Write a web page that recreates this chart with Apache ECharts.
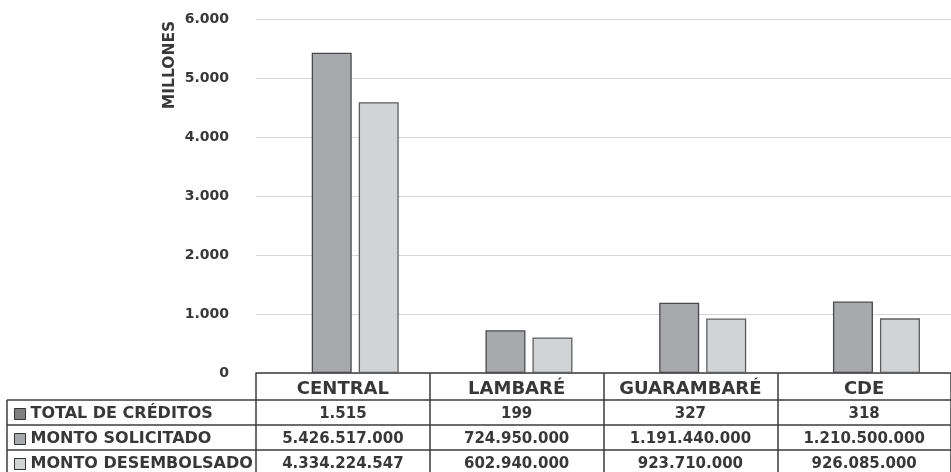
<!DOCTYPE html>
<html>
<head>
<meta charset="utf-8">
<script src="https://cdn.jsdelivr.net/npm/echarts@6/dist/echarts.min.js"></script>
<style>
html,body{margin:0;padding:0;background:#fff;}
#chart{width:951px;height:472px;}
</style>
</head>
<body>
<div id="chart"></div>
<script>
// ---- data ----
const categories = ['CENTRAL', 'LAMBARÉ', 'GUARAMBARÉ', 'CDE'];
const seriesNames = ['TOTAL DE CRÉDITOS', 'MONTO SOLICITADO', 'MONTO DESEMBOLSADO'];
const totalCreditos = [1515, 199, 327, 318];
const montoSolicitado = [5426517000, 724950000, 1191440000, 1210500000];
const montoDesembolsado = [4334224547, 602940000, 923710000, 926085000];
// bar heights (millones) as drawn in the picture
const barSolicitadoMillones = [5427, 725, 1191, 1211];
const barDesembolsadoMillones = [4590, 603, 924, 926];
const yMin = 0, yMax = 6000, yStep = 1000;

// ---- helpers ----
const fmt = n => String(n).replace(/\B(?=(\d{3})+(?!\d))/g, '.');
const textColor = '#383838';
const lineColor = '#3c3c3c';
const FONT = 'DejaVu Sans';
const seriesColors = ['#7f7f80', '#a8a9ac', '#d2d3d5'];

const chart = echarts.init(document.getElementById('chart'), null, {renderer: 'canvas'});

const rowLabels = [totalCreditos.map(fmt), montoSolicitado.map(fmt), montoDesembolsado.map(fmt)];

function tableAxis(idx, offset) {
  return {
    type: 'category', gridIndex: 0, position: 'bottom', offset: offset,
    data: categories,
    axisLine: {show: true, lineStyle: {color: lineColor, width: 1.5}},
    axisTick: {show: true, length: 25, lineStyle: {color: lineColor, width: 1.5}},
    axisLabel: {
      margin: 14, verticalAlign: 'middle', fontWeight: 'bold', fontSize: 15,
      color: textColor, fontFamily: FONT, interval: 0,
      formatter: (v, i) => rowLabels[idx][i]
    },
    splitLine: {show: false}
  };
}

const option = {
  animation: false,
  backgroundColor: '#ffffff',
  textStyle: {fontFamily: FONT},
  grid: {left: 256, top: 19, width: 703, height: 354, containLabel: false},
  legend: {
    data: seriesNames.map(n => ({name: n, itemStyle: {borderColor: '#333333', borderWidth: 1}})),
    orient: 'vertical', left: 14, top: 406, width: 245, height: 100, padding: 0,
    itemWidth: 11, itemHeight: 11, itemGap: 9, icon: 'rect', selectedMode: false,
    textStyle: {fontWeight: 'bold', fontSize: 16, color: textColor, fontFamily: FONT, lineHeight: 15}
  },
  xAxis: [
    {
      type: 'category', gridIndex: 0, position: 'bottom', data: categories,
      axisLine: {show: true, lineStyle: {color: lineColor, width: 1.5}},
      axisTick: {show: true, length: 27, lineStyle: {color: lineColor, width: 1.5}},
      axisLabel: {margin: 16, verticalAlign: 'middle', fontWeight: 'bold', fontSize: 18,
        color: textColor, fontFamily: FONT, interval: 0},
      splitLine: {show: false}
    },
    tableAxis(0, 27),
    tableAxis(1, 52),
    tableAxis(2, 77)
  ],
  yAxis: {
    type: 'value', min: yMin, max: yMax, interval: yStep,
    axisLine: {show: false}, axisTick: {show: false},
    axisLabel: {formatter: v => fmt(v), fontWeight: 'bold', fontSize: 14, color: textColor,
      fontFamily: FONT, margin: 27},
    splitLine: {lineStyle: {color: '#d6d6d6', width: 1.2}}
  },
  series: [
    {
      name: seriesNames[0], type: 'bar', xAxisIndex: 0,
      data: totalCreditos.map(v => v / 1e6),
      barWidth: 21, barGap: '17.5%',
      itemStyle: {color: seriesColors[0], borderWidth: 0}
    },
    {
      name: seriesNames[1], type: 'bar', xAxisIndex: 0,
      data: barSolicitadoMillones,
      barWidth: 40, barGap: '17.5%',
      itemStyle: {color: seriesColors[1], borderColor: '#4a4a4a', borderWidth: 1.3}
    },
    {
      name: seriesNames[2], type: 'bar', xAxisIndex: 0,
      data: barDesembolsadoMillones,
      barWidth: 40, barGap: '17.5%',
      itemStyle: {color: seriesColors[2], borderColor: '#5e5e5e', borderWidth: 1.3}
    }
  ],
  graphic: [
    {type: 'text', x: 170, y: 65, rotation: Math.PI / 2,
      style: {text: 'MILLONES', font: 'bold 15.5px "DejaVu Sans"', fill: textColor, align: 'center', verticalAlign: 'middle'}},
    {type: 'line', shape: {x1: 7, y1: 400, x2: 256, y2: 400}, style: {stroke: lineColor, lineWidth: 1.5}},
    {type: 'line', shape: {x1: 7, y1: 425, x2: 256, y2: 425}, style: {stroke: lineColor, lineWidth: 1.5}},
    {type: 'line', shape: {x1: 7, y1: 450, x2: 256, y2: 450}, style: {stroke: lineColor, lineWidth: 1.5}},
    {type: 'line', shape: {x1: 7, y1: 400, x2: 7, y2: 475}, style: {stroke: lineColor, lineWidth: 1.5}}
  ]
};
chart.setOption(option);
</script>
</body>
</html>
